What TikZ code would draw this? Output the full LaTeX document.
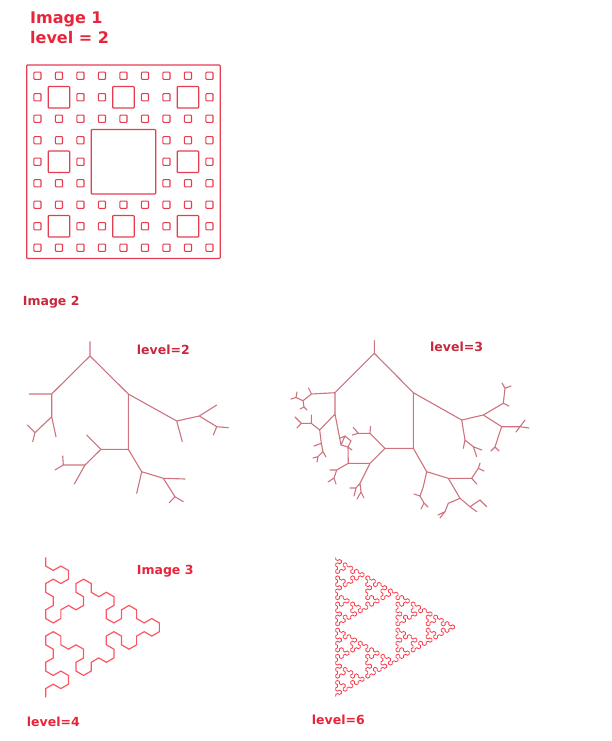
\documentclass[tikz,border=0pt]{standalone}
\usepackage{fontspec}
\setmainfont{DejaVu Sans}
\usetikzlibrary{lindenmayersystems}

\definecolor{titlered}{RGB}{232,36,58}
\definecolor{labelred}{RGB}{200,40,60}
\definecolor{carpetred}{RGB}{230,60,80}
\definecolor{branchred}{RGB}{205,115,125}
\definecolor{curvered}{RGB}{250,60,75}
\definecolor{curvepink}{RGB}{252,85,100}

\pgfdeclarelindenmayersystem{arrowhead}{
  \symbol{A}{\pgflsystemdrawforward}
  \symbol{B}{\pgflsystemdrawforward}
  \rule{A -> B-A-B}
  \rule{B -> A+B+A}
}

\begin{document}
\begin{tikzpicture}[x=1pt, y=-1pt,
    carpet/.style={draw=carpetred, line width=1.15pt, rounded corners=0.8pt},
    branch/.style={draw=branchred, line width=1.1pt, line cap=round},
    heading/.style={anchor=base west, inner sep=0pt, text=titlered,
        font=\fontsize{16}{19}\selectfont\bfseries},
    caption/.style={anchor=base west, inner sep=0pt, text=labelred,
        font=\fontsize{12.5}{15}\selectfont\bfseries}]
\useasboundingbox (0,0) rectangle (611,741);

% Image 1: carpet
\node[heading] (img1) at (30,24) {Image 1};
\node[heading] (lev1) at (30,43.5) {level = 2};
{
    \def\ox{26.7}
    \def\oy{65}
    \draw[carpet] (\ox,\oy) rectangle ++(193.5,193.5);
    \draw[carpet] ({\ox+64.5},{\oy+64.5}) rectangle ++(64.5,64.5);
    \foreach \i in {0,1,2}
        \foreach \j in {0,1,2} {
            \ifnum\i\j=11 \else
                \draw[carpet] ({\ox+64.5*\i+21.5},{\oy+64.5*\j+21.5}) rectangle ++(21.5,21.5);
                \foreach \p in {0,1,2}
                    \foreach \q in {0,1,2} {
                        \ifnum\p\q=11 \else
                            \draw[carpet] ({\ox+64.5*\i+21.5*\p+7.17},{\oy+64.5*\j+21.5*\q+7.17}) rectangle ++(7.17,7.17);
                        \fi
                    }
            \fi
        }
}

% Image 2: trees
\node[caption] (img2) at (22.7,305) {Image 2};
\node[caption] (lev2) at (136.7,354) {level=2};
\node[caption] (lev3) at (430,351.7) {level=3};

\draw[branch] (90,341.7) -- (90,356)
    (51.7,394) -- (90,356) -- (128.3,394)
    (29.3,394) -- (51.7,394) -- (51.7,416.7) -- (56,436.7)
    (51.7,416.7) -- (35,432.7) -- (27.3,425)
    (35,432.7) -- (32.7,441.7)
    (128.3,394) -- (128.3,449.3)
    (128.3,394) -- (176.7,421) -- (182.3,441.7)
    (176.7,421) -- (199.3,416) -- (216.7,405)
    (199.3,416) -- (216.7,426.7) -- (228.3,427.7)
    (216.7,426.7) -- (213.3,435)
    (128.3,449.3) -- (101,449.3) -- (86.7,435)
    (101,449.3) -- (85,465) -- (74.3,484)
    (85,465) -- (63.3,465) -- (62.7,456)
    (63.3,465) -- (55,470)
    (128.3,449.3) -- (141.7,471.7) -- (136.7,493.3)
    (141.7,471.7) -- (163.3,478.3) -- (185,479)
    (163.3,478.3) -- (175,496.7) -- (169.3,502.7)
    (175,496.7) -- (183.3,501.7);

% level 3
\draw[branch] (374.3,340.7) -- (374.3,353.3)
    (335,392.7) -- (374.3,353.3) -- (413.3,392.7)
    (413.3,392.7) -- (413.3,448.3)
    (413.3,392.7) -- (461.7,420)
    % left
    (335,392.7) -- (311.5,394) -- (308.5,388)
    (311.5,394) -- (303,400.7) -- (296,397.5) -- (297,392)
    (296,397.5) -- (291,399)
    (303,400.7) -- (304,407) -- (300,409)
    (304,407) -- (307,410)
    (335,392.7) -- (335,414) -- (319.7,430) -- (311.3,423.3) -- (311.3,415)
    (311.3,423.3) -- (301.3,423.3) -- (295,417)
    (301.3,423.3) -- (297,428)
    (319.7,430) -- (321.3,443.3) -- (314,446)
    (321.3,443.3) -- (323,451.7) -- (318,456.7) -- (317,462)
    (318,456.7) -- (313,458)
    (323,451.7) -- (326,457)
    (335,414) -- (339.7,438.3) -- (345,436) -- (351,441) -- (348,447) -- (341,445) -- (339.7,438.3)
    (345,436) -- (341,445)
    (348,447) -- (352,450)
    (348,447) -- (348.3,463.3)
    % middle
    (413.3,448.3) -- (385,448.3) -- (370,433.3) -- (358.3,433.3) -- (353.3,427.5)
    (358.3,433.3) -- (352.5,435)
    (370,433.3) -- (370.5,426.5)
    (385,448.3) -- (370,463.3) -- (348.3,463.3) -- (336.7,470) -- (330,470)
    (336.7,470) -- (334,478) -- (328,482)
    (334,478) -- (336,484)
    (370,463.3) -- (360,483.3) -- (356,488) -- (354,496)
    (356,488) -- (350,488)
    (360,483.3) -- (361,492) -- (364,498)
    (361,492) -- (357,499)
    % bottom right
    (413.3,448.3) -- (426.7,471.7) -- (448.3,478.3) -- (471.7,478.3) -- (478.3,468.3) -- (484,471)
    (478.3,468.3) -- (480,463)
    (471.7,478.3) -- (476.7,484)
    (426.7,471.7) -- (423.3,486.7) -- (420,496) -- (414,494)
    (420,496) -- (424,503) -- (428,507)
    (424,503) -- (421,509)
    (448.3,478.3) -- (460,498.3) -- (448.3,503.3) -- (445,511.7) -- (440,518)
    (445,511.7) -- (438,515)
    (460,498.3) -- (470,506.7) -- (480,500) -- (486.7,506.7)
    (470,506.7) -- (476.7,511.7)
    % right
    (461.7,420) -- (483.3,415) -- (503.3,403.3) -- (505,388.3) -- (502,383)
    (505,388.3) -- (511,386)
    (503.3,403.3) -- (509,406)
    (483.3,415) -- (501.7,426.7) -- (520,426.7) -- (525,420)
    (520,426.7) -- (529,428)
    (520,426.7) -- (516,432)
    (501.7,426.7) -- (498.3,436.7) -- (495,447) -- (491,451)
    (495,447) -- (499,451)
    (461.7,420) -- (465,440) -- (473.3,446.7) -- (481.7,450)
    (473.3,446.7) -- (476.7,456.7)
    (465,440) -- (463.3,448.3);

% Image 3: arrowhead curves
\node[heading, font=\fontsize{12.5}{15}\selectfont\bfseries] (img3) at (136.7,574) {Image 3};
\node[heading, font=\fontsize{12.5}{15}\selectfont\bfseries] (lev4) at (26.7,726.5) {level=4};
\node[heading, font=\fontsize{12.5}{15}\selectfont\bfseries] (lev6) at (311.7,724) {level=6};

\begin{scope}[shift={(45.7,557.3)}]
    \draw[curvepink, line width=1.2pt, rotate=-90]
        [l-system={arrowhead, axiom=A, order=4, step=8.75pt, angle=60}] lindenmayer system;
\end{scope}
\begin{scope}[shift={(335.7,557.3)}]
    \draw[curvered, line width=0.8pt, rotate=-90]
        [l-system={arrowhead, axiom=A, order=6, step=2.178pt, angle=60}] lindenmayer system;
\end{scope}

\end{tikzpicture}
\end{document}
